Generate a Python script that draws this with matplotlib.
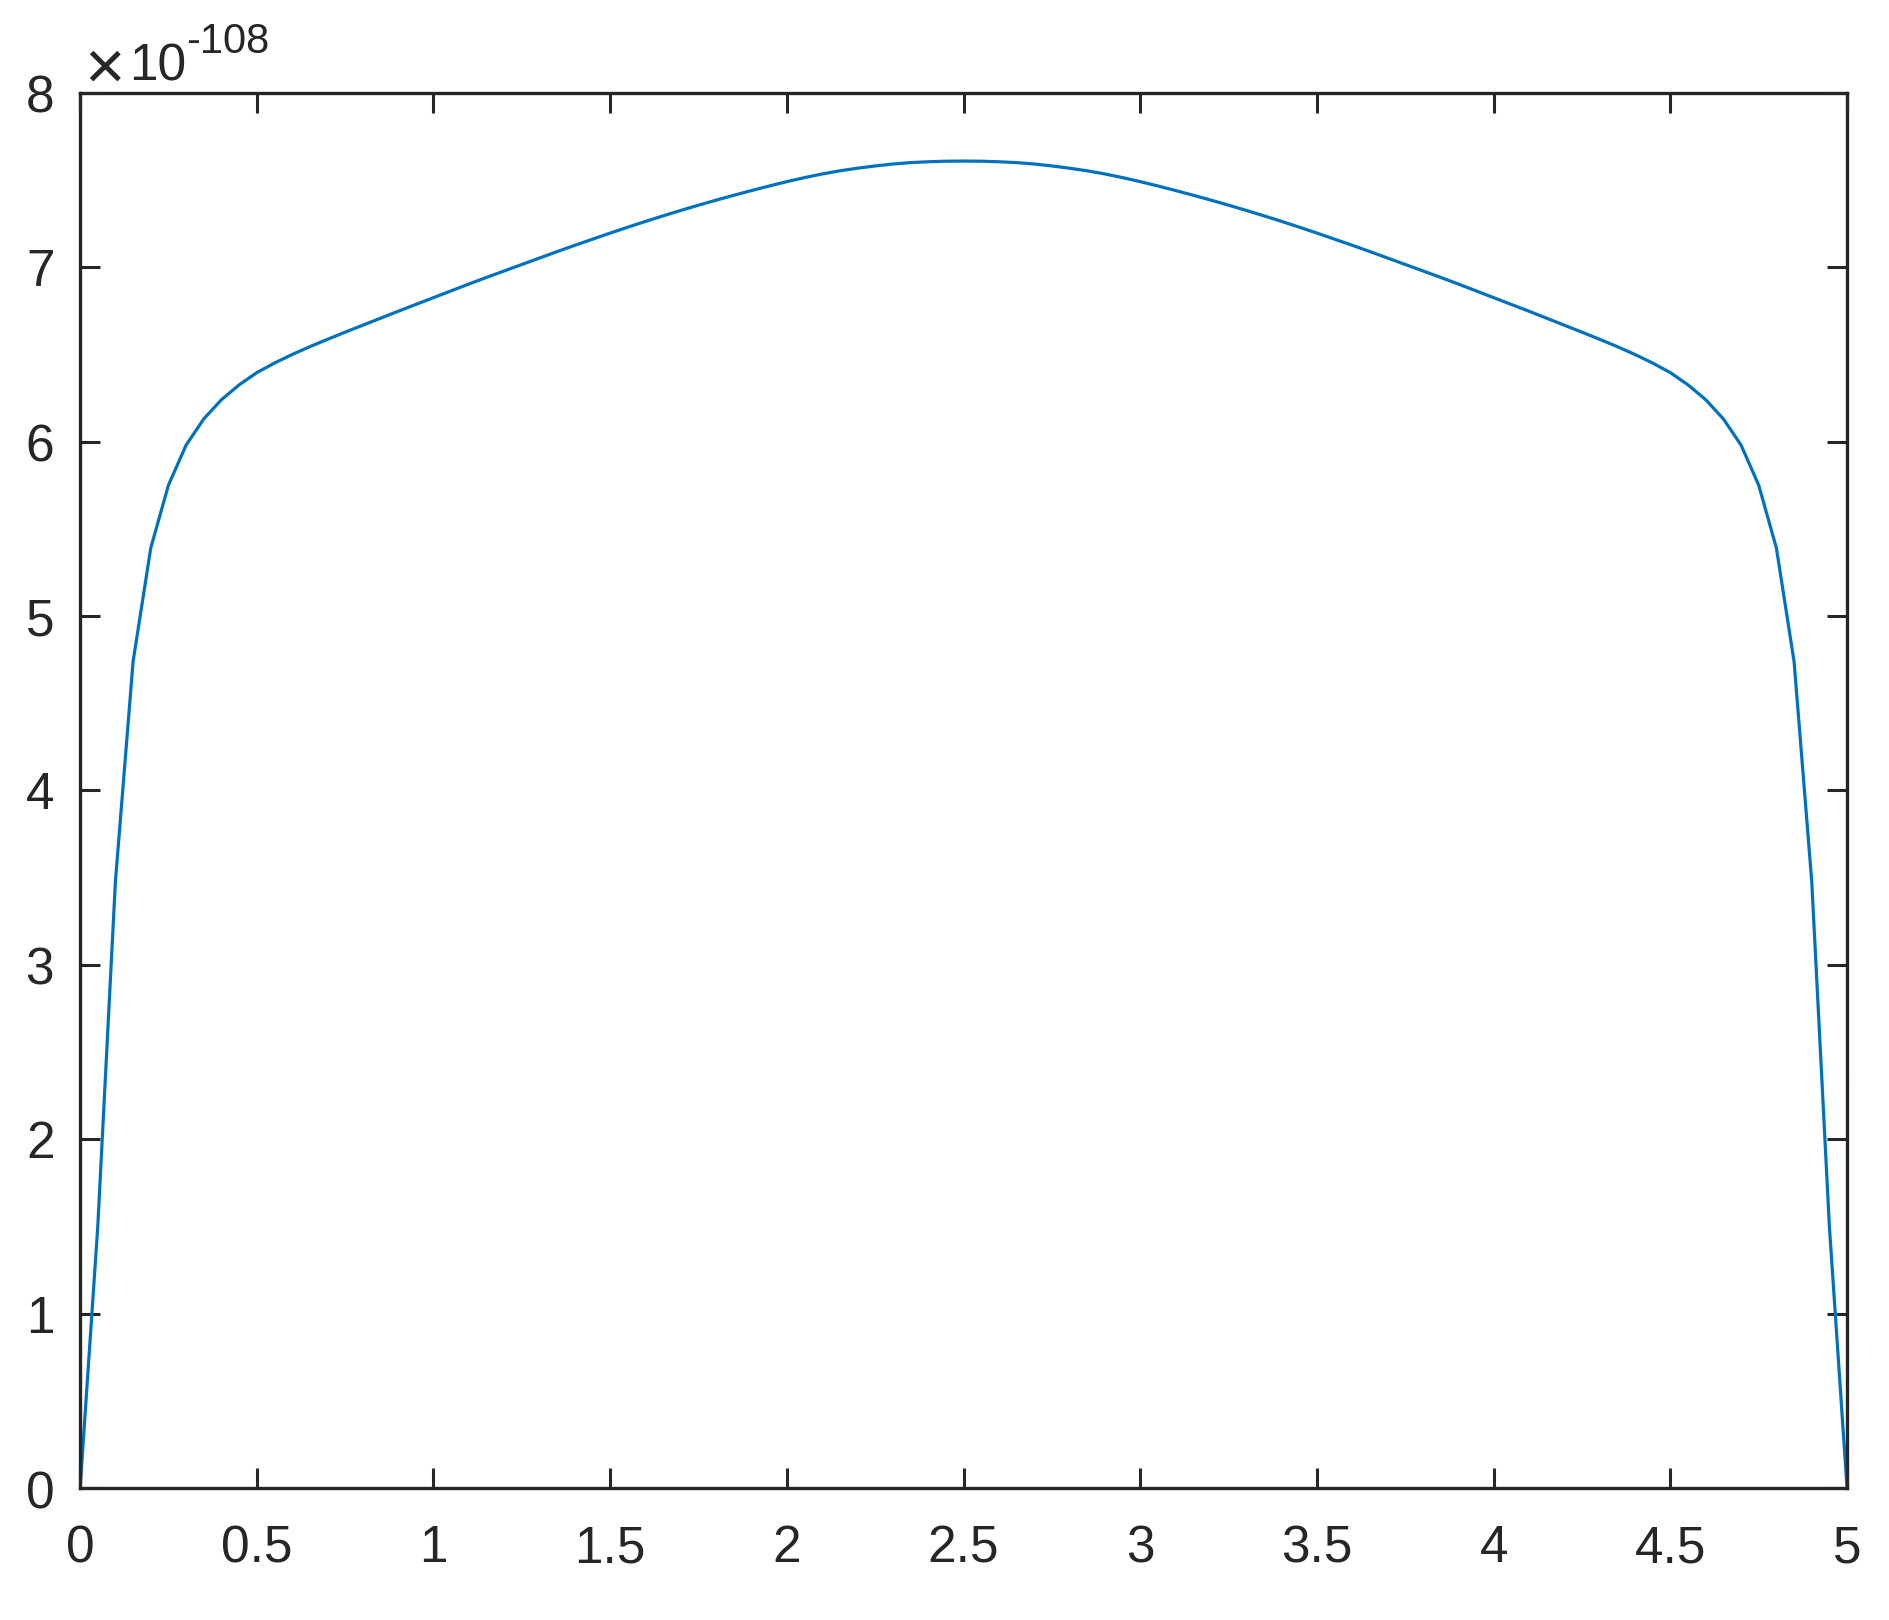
import matplotlib
matplotlib.use('agg')
import matplotlib.pyplot as plt
from matplotlib.ticker import ScalarFormatter, MultipleLocator
import numpy as np

# x sampled every 0.05 from 0 to 5
x_start, x_stop = 0.0, 5.0
# curve values, in units of 1e-108
values = [
    0.000, 1.500, 3.480, 4.740, 5.390, 5.750, 5.980, 6.130, 6.240, 6.325,
    6.395, 6.450, 6.499, 6.544, 6.586, 6.627, 6.667, 6.707, 6.747, 6.786,
    6.825, 6.864, 6.903, 6.941, 6.978, 7.015, 7.052, 7.089, 7.125, 7.160,
    7.195, 7.229, 7.262, 7.294, 7.325, 7.355, 7.384, 7.412, 7.439, 7.465,
    7.490, 7.513, 7.534, 7.552, 7.567, 7.580, 7.591, 7.599, 7.604, 7.607,
    7.608,
    7.607, 7.604, 7.599, 7.591, 7.580, 7.567, 7.552, 7.534, 7.513, 7.490,
    7.465, 7.439, 7.412, 7.384, 7.355, 7.325, 7.294, 7.262, 7.229, 7.195,
    7.160, 7.125, 7.089, 7.052, 7.015, 6.978, 6.941, 6.903, 6.864, 6.825,
    6.786, 6.747, 6.707, 6.667, 6.627, 6.586, 6.544, 6.499, 6.450, 6.395,
    6.325, 6.240, 6.130, 5.980, 5.750, 5.390, 4.740, 3.480, 1.500, 0.000,
]
scale = 1e-108
x_ticks = [0, 0.5, 1, 1.5, 2, 2.5, 3, 3.5, 4, 4.5, 5]
x_tick_labels = ['0', '0.5', '1', '1.5', '2', '2.5', '3', '3.5', '4', '4.5', '5']

plt.rcParams['font.family'] = ['Liberation Sans', 'DejaVu Sans']
plt.rcParams['axes.unicode_minus'] = False

dark = '#262626'

x = np.linspace(x_start, x_stop, len(values))
y = np.array(values) * scale

fig = plt.figure(figsize=(18.89, 16.2), dpi=100)
ax = fig.add_axes([0.0424, 0.0813, 0.9354, 0.8615])
ax.plot(x, y, color='#0072BD', lw=2.3)

ax.set_xlim(0, 5)
ax.set_ylim(0, 8 * scale)
ax.set_xticks(x_ticks)
ax.set_xticklabels(x_tick_labels)
ax.yaxis.set_major_locator(MultipleLocator(1 * scale))
ax.yaxis.set_major_formatter(ScalarFormatter(useMathText=True))
ax.yaxis.get_offset_text().set_visible(False)

# exponent label, drawn MATLAB-style
ax.annotate('×', xy=(0, 1), xycoords='axes fraction', xytext=(4, 4),
            textcoords='offset pixels', ha='left', va='baseline',
            fontsize=50, color=dark)
ax.annotate('10', xy=(0, 1), xycoords='axes fraction', xytext=(49, 12),
            textcoords='offset pixels', ha='left', va='baseline',
            fontsize=37, color=dark)
ax.annotate('-108', xy=(0, 1), xycoords='axes fraction', xytext=(106, 40),
            textcoords='offset pixels', ha='left', va='baseline',
            fontsize=30, color=dark)

for side in ['left', 'right', 'top', 'bottom']:
    ax.spines[side].set_color(dark)
    ax.spines[side].set_linewidth(2.4)

ax.tick_params(axis='both', which='major', direction='in', length=14.5,
               width=2.2, color=dark, labelcolor=dark, labelsize=37,
               top=True, right=True)
ax.tick_params(axis='x', pad=26)
ax.tick_params(axis='y', pad=19)

fig.savefig('out.png', dpi=100, facecolor='white')
